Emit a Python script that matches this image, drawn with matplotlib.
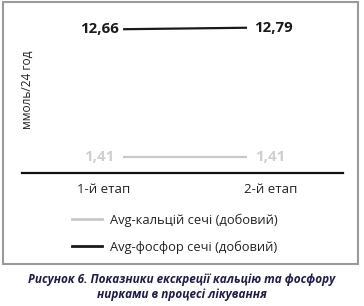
import matplotlib.pyplot as plt
from matplotlib.patches import Rectangle
from matplotlib.lines import Line2D

plt.rcParams['font.family'] = ['Open Sans', 'DejaVu Sans']

# data
stages = ['1-й етап', '2-й етап']
calcium = [1.41, 1.41]
phosphor = [12.66, 12.79]
calcium_lbl = ['1,41', '1,41']
phosphor_lbl = ['12,66', '12,79']

W, H = 364, 306
fig = plt.figure(figsize=(W / 100, H / 100), dpi=100)

# grey frame round the chart
fig.patches.append(Rectangle((2.5 / W, 1 - 264 / H), 355.5 / W, 262 / H,
                             transform=fig.transFigure, fill=False,
                             edgecolor='#9a9a9a', linewidth=1.5))

ax = fig.add_axes([22 / W, 1 - 173 / H, 321 / W, 159 / H])
x = [0, 1]
ax.plot(x, calcium, color='#c8c8c8', lw=1.6, solid_capstyle='butt')
ax.plot(x, phosphor, color='#1a1a1a', lw=1.6, solid_capstyle='butt')

ax.set_xlim(-0.815, 1.774)
ax.set_ylim(0, 14)

for s in ['top', 'right', 'left']:
    ax.spines[s].set_visible(False)
ax.spines['bottom'].set_linewidth(1.6)
ax.spines['bottom'].set_color('#111111')
ax.set_yticks([])

# category labels (offset a little, as in the original)
ax.set_xticks([x[0] - 0.153, x[1] + 0.194])
ax.set_xticklabels(stages, fontsize=9.5, color='#222222')
ax.tick_params(axis='x', length=0, pad=7)

# value labels
for i, (v, t) in enumerate(zip(phosphor, phosphor_lbl)):
    ax.annotate(t, (x[i], v), xytext=(-3 if i == 0 else 5, 0),
                textcoords='offset points', ha='right' if i == 0 else 'left',
                va='center', fontsize=10.8, fontweight='bold', color='#1a1a1a')
for i, (v, t) in enumerate(zip(calcium, calcium_lbl)):
    ax.annotate(t, (x[i], v), xytext=(-6 if i == 0 else 6, 0),
                textcoords='offset points', ha='right' if i == 0 else 'left',
                va='center', fontsize=10.8, fontweight='bold', color='#cfcfcf')

fig.text(27 / W, 1 - 90 / H, 'ммоль/24 год', rotation=90, ha='center',
         va='center', fontsize=8.6, color='#222222')

# legend
handles = [Line2D([], [], color='#c8c8c8', lw=2),
           Line2D([], [], color='#1a1a1a', lw=2)]
fig.legend(handles, ['Avg-кальцій сечі (добовий)', 'Avg-фосфор сечі (добовий)'],
           loc='upper left', bbox_to_anchor=(60 / W, 1 - 202 / H),
           frameon=False, fontsize=9.3, handlelength=2.35, handletextpad=0.6,
           labelspacing=1.05, labelcolor='#222222')

# caption
fig.text(0.5, 1 - 287 / H, 'Рисунок 6. Показники екскреції кальцію та фосфору\nнирками в процесі лікування',
         ha='center', va='center', fontsize=8.5, fontweight='bold',
         fontstyle='italic', color='#1e1c4e', linespacing=1.12)

fig.savefig('out.png', dpi=100)
